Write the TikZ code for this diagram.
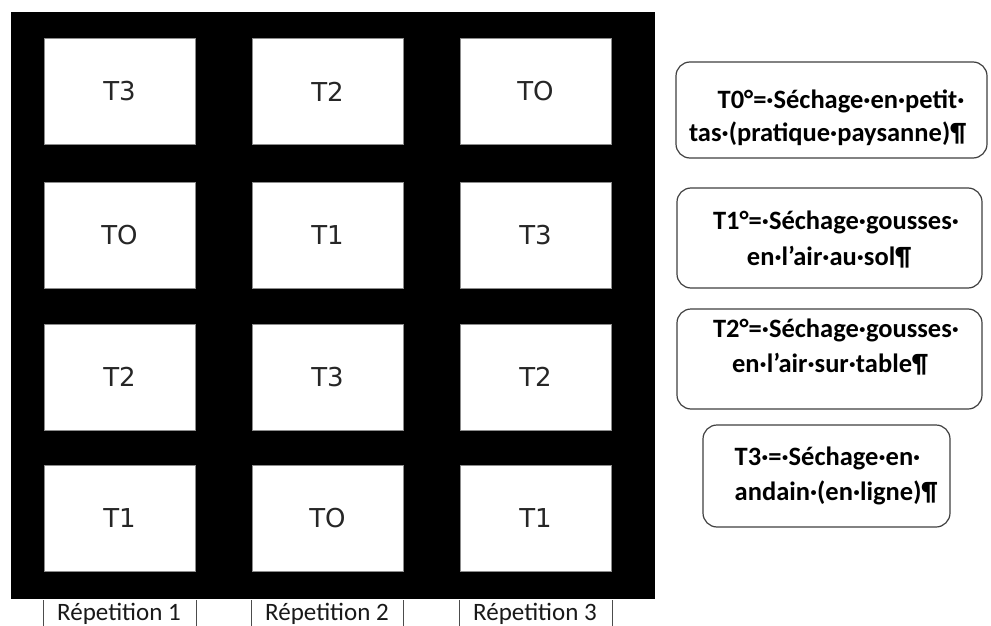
\documentclass[tikz,border=0pt]{standalone}
\usepackage{fontspec}
\setmainfont{Carlito}
\newfontfamily\cellfont{DejaVu Sans}
\begin{document}
\begin{tikzpicture}[x=1pt,y=-1pt,
  field/.style={fill=black, draw=none, inner sep=0pt, anchor=north west},
  cell/.style={fill=white, draw=black!45, line width=0.8pt, inner sep=0pt,
    minimum width=151pt, minimum height=106pt, text=black!85,
    font=\cellfont\fontsize{26}{26}\selectfont},
  legbox/.style={fill=white, draw=black!75, line width=1.2pt, rounded corners=14pt, inner sep=0pt},
  legtxt/.style={anchor=base, inner sep=0pt, font=\bfseries\fontsize{26.5}{26.5}\selectfont},
  repbox/.style={inner sep=0pt, minimum width=152pt, minimum height=26pt, anchor=north},
  reptxt/.style={anchor=base, inner sep=0pt, text=black!90, font=\fontsize{25}{25}\selectfont},
  repline/.style={draw=black!70, line width=0.9pt}]
\useasboundingbox (0,0) rectangle (991,626);
\fill[white] (0,0) rectangle (991,626);
% black field
\node[field, minimum width=644pt, minimum height=587pt] (fld) at (11,12) {};
% cells
\node[cell] (c11) at (119.5,91.5) {T3};
\node[cell] (c12) at (327.5,91.5) {T2};
\node[cell] (c13) at (535.5,91.5) {TO};
\node[cell] (c21) at (119.5,235) {TO};
\node[cell] (c22) at (327.5,235) {T1};
\node[cell] (c23) at (535.5,235) {T3};
\node[cell] (c31) at (119.5,377) {T2};
\node[cell] (c32) at (327.5,377) {T3};
\node[cell] (c33) at (535.5,377) {T2};
\node[cell] (c41) at (119.5,518.5) {T1};
\node[cell] (c42) at (327.5,518.5) {TO};
\node[cell] (c43) at (535.5,518.5) {T1};
% repetition labels
\node[repbox] (r1) at (120,600) {};
\node[repbox, minimum width=151pt] (r2) at (327.5,600) {};
\node[repbox] (r3) at (536,600) {};
\foreach \r in {r1,r2,r3}{
  \draw[repline] (\r.north west) -- (\r.south west);
  \draw[repline] (\r.north east) -- (\r.south east);
}
\node[reptxt] (r1t) at (119,620) {Répetition 1};
\node[reptxt] (r2t) at (327,620) {Répetition 2};
\node[reptxt] (r3t) at (535,620) {Répetition 3};
% legend
\node[legbox, minimum width=311pt, minimum height=96pt] (L0) at (831.5,110) {};
\node[legbox, minimum width=305pt, minimum height=100pt] (L1) at (829.5,238) {};
\node[legbox, minimum width=305pt, minimum height=100pt] (L2) at (829.5,359) {};
\node[legbox, minimum width=247pt, minimum height=102pt] (L3) at (826.5,476) {};
\node[legtxt] (L0a) at (841,109) {T0°=·Séchage·en·petit·};
\node[legtxt] (L0b) at (827.5,141) {tas·(pratique·paysanne)¶};
\node[legtxt] (L1a) at (836,229) {T1°=·Séchage·gousses·};
\node[legtxt] (L1b) at (829,265) {en·l’air·au·sol¶};
\node[legtxt] (L2a) at (836,337) {T2°=·Séchage·gousses·};
\node[legtxt] (L2b) at (830,372) {en·l’air·sur·table¶};
\node[legtxt] (L3a) at (827.5,465) {T3·=·Séchage·en·};
\node[legtxt] (L3b) at (836,500) {andain·(en·ligne)¶};
\end{tikzpicture}
\end{document}
